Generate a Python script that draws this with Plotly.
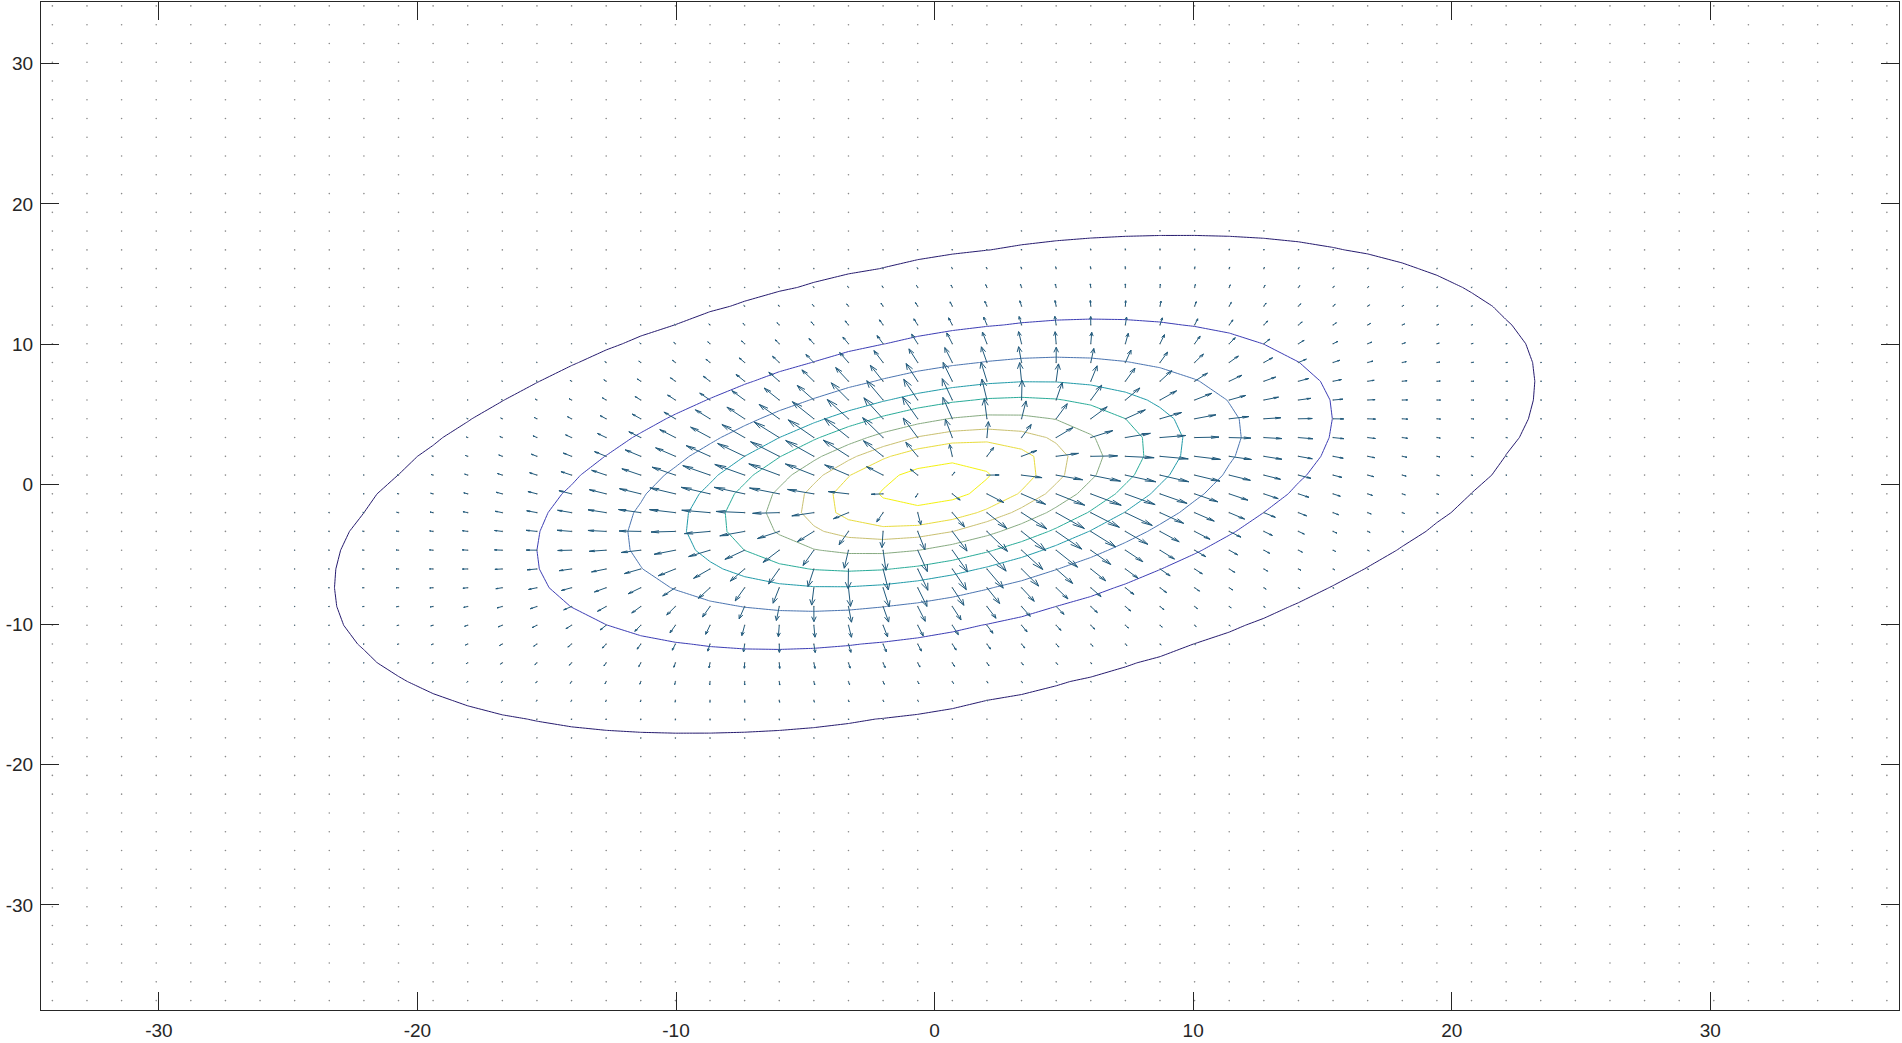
import numpy as np
import plotly.graph_objects as go

# ---------------- data ----------------
# sample grid of the vector field / surface (54 x 54 points)
grid_x_start, grid_y_start, grid_step, grid_n = -34.12, -36.83, 1.3387, 54

# covariance-like shape matrix of the outer ellipse and peak sharpness
shape_matrix = [[535.9, 168.0], [168.0, 311.9]]
peak_sharpness = 5.0

# contour levels (surface value, peak = 1) and their colours
contour_levels = [0.0067, 0.110, 0.270, 0.423, 0.540, 0.672, 0.776, 0.858, 0.956]
contour_colors = ["#251a6e", "#3b3cb4", "#4a74b0", "#1f9aa8", "#28ab98",
                  "#86aa80", "#c9c070", "#e8dc3c", "#f4f20e"]

x_tick_vals = [-30, -20, -10, 0, 10, 20, 30]
x_tick_text = ["-30", "-20", "-10", "0", "10", "20", "30"]
y_tick_vals = [-30, -20, -10, 0, 10, 20, 30]
y_tick_text = ["-30", "-20", "-10", "0", "10", "20", "30"]
x_range = [-34.56, 37.3]
y_range = [-37.5, 34.4]

# ---------------- surface and gradient field ----------------
gx = grid_x_start + grid_step * np.arange(grid_n)
gy = grid_y_start + grid_step * np.arange(grid_n)
X, Y = np.meshgrid(gx, gy)
Sinv = np.linalg.inv(np.array(shape_matrix))
q = Sinv[0, 0] * X**2 + 2 * Sinv[0, 1] * X * Y + Sinv[1, 1] * Y**2
Z = np.exp(-peak_sharpness * q)
# vectors point away from the peak (negative gradient)
U = 2 * peak_sharpness * Z * (Sinv[0, 0] * X + Sinv[0, 1] * Y)
V = 2 * peak_sharpness * Z * (Sinv[0, 1] * X + Sinv[1, 1] * Y)

# MATLAB-style autoscale
n = np.sqrt(X.size)
delx = (gx.max() - gx.min()) / n
dely = (gy.max() - gy.min()) / n
dell = delx**2 + dely**2
lens = np.sqrt((U**2 + V**2) / dell)
scale = 0.9 / lens.max()
U = U * scale
V = V * scale

alpha, beta = 0.33, 0.25
xs, ys = [], []
for x0, y0, u, v in zip(X.ravel(), Y.ravel(), U.ravel(), V.ravel()):
    x1, y1 = x0 + u, y0 + v
    xs += [x0, x1, None]
    ys += [y0, y1, None]
    hx1 = x1 - alpha * (u + beta * v)
    hy1 = y1 - alpha * (v - beta * u)
    hx2 = x1 - alpha * (u - beta * v)
    hy2 = y1 - alpha * (v + beta * u)
    xs += [hx1, x1, hx2, None]
    ys += [hy1, y1, hy2, None]

fig = go.Figure()

for lev, col in zip(contour_levels, contour_colors):
    fig.add_trace(go.Contour(
        x=gx, y=gy, z=Z,
        contours=dict(start=lev, end=lev, size=1, coloring="none"),
        line=dict(color=col, width=1, smoothing=0),
        showscale=False, hoverinfo="skip", autocontour=False,
    ))

fig.add_trace(go.Scatter(
    x=X.ravel(), y=Y.ravel(), mode="markers",
    marker=dict(size=1.6, color="#8a8a8a"), hoverinfo="skip", showlegend=False,
))
fig.add_trace(go.Scatter(
    x=xs, y=ys, mode="lines",
    line=dict(color="#215a7c", width=1),
    hoverinfo="skip", showlegend=False,
))

axis_common = dict(
    showgrid=False, zeroline=False, showline=True, linecolor="#262626",
    linewidth=1, mirror="ticks", ticks="inside", ticklen=18, tickwidth=1,
    tickcolor="#262626", automargin=False,
    tickfont=dict(family="Arial, Liberation Sans, Helvetica, sans-serif",
                  size=19, color="#262626"),
)
fig.update_layout(
    width=1902, height=1043,
    margin=dict(l=41, r=3, t=2, b=33),
    paper_bgcolor="white", plot_bgcolor="white",
    showlegend=False,
    xaxis=dict(range=x_range, tickvals=x_tick_vals, ticktext=x_tick_text,
               ticklabelstandoff=3, **axis_common),
    yaxis=dict(range=y_range, tickvals=y_tick_vals, ticktext=y_tick_text,
               ticklabelstandoff=3, **axis_common),
)

fig.write_html("out.html", config={"displayModeBar": False},
               post_script="document.body.style.margin='0';document.body.style.overflow='hidden';")
